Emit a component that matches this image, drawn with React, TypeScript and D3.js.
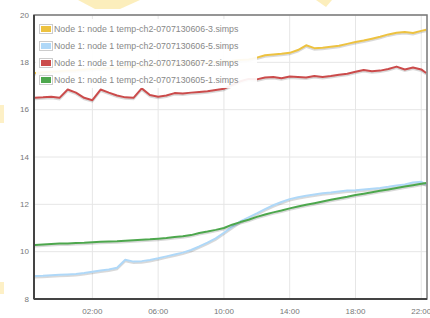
import React from 'react';
import * as d3 from 'd3';

// hours relative to midnight (negative = previous evening)
const hours = [
  -1.5, -1, -0.5, 0, 0.5, 1, 1.5, 2, 2.5, 3, 3.5, 4, 4.5, 5, 5.5, 6,
  6.5, 7, 7.5, 8, 8.5, 9, 9.5, 10, 10.5, 11, 11.5, 12, 12.5, 13, 13.5, 14,
  14.5, 15, 15.5, 16, 16.5, 17, 17.5, 18, 18.5, 19, 19.5, 20, 20.5, 21, 21.5, 22, 22.3,
];

const seriesNames = [
  'Node 1: node 1 temp-ch2-0707130606-3.simps',
  'Node 1: node 1 temp-ch2-0707130606-5.simps',
  'Node 1: node 1 temp-ch2-0707130607-2.simps',
  'Node 1: node 1 temp-ch2-0707130605-1.simps',
];
const seriesColors = ['#edc240', '#afd8f8', '#cb4b4b', '#4da74d'];

const yellowTemps = [
  17.55, 17.58, 17.6, 17.62, 17.65, 17.66, 17.7, 17.72, 17.74, 17.76, 17.78, 17.8, 17.82, 17.84, 17.86, 17.88,
  17.9, 17.92, 17.94, 17.96, 17.98, 18.0, 18.02, 18.05, 18.07, 18.1, 18.12, 18.2, 18.3, 18.33, 18.36, 18.4,
  18.52, 18.72, 18.6, 18.62, 18.66, 18.7, 18.78, 18.86, 18.92, 19.0, 19.08, 19.18, 19.25, 19.28, 19.24, 19.33, 19.38,
];
const blueTemps = [
  8.97, 8.98, 9.0, 9.02, 9.04, 9.06, 9.1, 9.15, 9.2, 9.25, 9.32, 9.66, 9.58, 9.6, 9.65, 9.72,
  9.8, 9.88, 9.96, 10.07, 10.22, 10.38, 10.56, 10.8, 11.05, 11.28, 11.45, 11.62, 11.8, 11.96, 12.1, 12.22,
  12.3, 12.36, 12.42, 12.47, 12.5, 12.54, 12.58, 12.6, 12.63, 12.66, 12.69, 12.74, 12.8, 12.84, 12.92, 12.95, 12.84,
];
const redTemps = [
  16.5, 16.52, 16.55, 16.5, 16.85, 16.72, 16.5, 16.4, 16.85, 16.72, 16.6, 16.52, 16.5, 16.9, 16.62, 16.55,
  16.6, 16.7, 16.68, 16.72, 16.75, 16.78, 16.83, 16.88, 17.05, 17.2, 17.3, 17.28, 17.36, 17.38, 17.33, 17.4,
  17.38, 17.36, 17.42, 17.38, 17.42, 17.48, 17.52, 17.6, 17.68, 17.62, 17.65, 17.72, 17.82, 17.7, 17.78, 17.7, 17.55,
];
const greenTemps = [
  10.28, 10.3, 10.32, 10.34, 10.35, 10.37, 10.38, 10.4, 10.42, 10.43, 10.44, 10.46, 10.48, 10.5, 10.52, 10.55,
  10.58, 10.62, 10.65, 10.7, 10.79, 10.85, 10.92, 11.0, 11.14, 11.25, 11.35, 11.47, 11.57, 11.66, 11.74, 11.83,
  11.91, 11.98, 12.05, 12.12, 12.19, 12.26, 12.32, 12.39, 12.45, 12.51, 12.57, 12.63, 12.69, 12.75, 12.81, 12.87, 12.9,
];

const yTicks = [8, 10, 12, 14, 16, 18, 20];
const xTicks = [2, 6, 10, 14, 18, 22];
const xTickLabels = ['02:00', '06:00', '10:00', '14:00', '18:00', '22:00'];

const W = 430;
const H = 318;
const margin = { top: 15, right: 3, bottom: 19, left: 34 };

export default function App() {
  const x = d3.scaleLinear()
    .domain([-1.55, 22.35])
    .range([margin.left, W - margin.right]);
  const y = d3.scaleLinear()
    .domain([8, 20])
    .range([H - margin.bottom, margin.top]);

  const allSeries = [yellowTemps, blueTemps, redTemps, greenTemps];

  const line = d3.line<number>()
    .x((d, i) => x(hours[i]))
    .y(d => y(d));

  const font = '"Liberation Sans", Arial, sans-serif';
  const rowY = [29, 46, 63, 80];

  return (
    <div style={{ position: 'absolute', left: 0, top: 0 }}>
      <svg width={W} height={H} style={{ display: 'block', background: '#fff' }}>
        {/* faint watermark bits */}
        <path d="M78,0 L140,0 L120,9 L95,9 Z" fill="#fbe7a0" opacity={0.7} />
        <path d="M316,0 L332,0 L326,7 Z" fill="#fbe7a0" opacity={0.7} />
        <rect x={0} y={105} width={4} height={18} fill="#fdf0c6" />
        <rect x={0} y={282} width={4} height={12} fill="#fdf0c6" />

        {/* grid */}
        <g stroke="#e6e6e6" strokeWidth={1}>
          {yTicks.map(t => (
            <line key={'gy' + t} x1={margin.left} x2={W - margin.right} y1={y(t)} y2={y(t)} />
          ))}
          {xTicks.map(t => (
            <line key={'gx' + t} x1={x(t)} x2={x(t)} y1={margin.top} y2={H - margin.bottom} />
          ))}
        </g>

        {/* series, with a flot-like shadow */}
        <defs>
          <clipPath id="plot">
            <rect x={margin.left} y={margin.top} width={W - margin.left - margin.right} height={H - margin.top - margin.bottom} />
          </clipPath>
        </defs>
        <g clipPath="url(#plot)">
          {allSeries.map((s, i) => (
            <g key={'s' + i}>
              <path d={line(s) || ''} fill="none" stroke="rgba(0,0,0,0.15)" strokeWidth={2} transform="translate(0,1.5)" />
              <path d={line(s) || ''} fill="none" stroke={seriesColors[i]} strokeWidth={2} strokeLinejoin="round" />
            </g>
          ))}
        </g>

        {/* legend */}
        <rect x={36} y={19} width={221} height={69} fill="#fff" opacity={0.92} />
        {seriesNames.map((name, i) => (
          <g key={'l' + i}>
            <rect x={39.5} y={rowY[i] - 4.5} width={13} height={9} fill="none" stroke="#ccc" strokeWidth={1} />
            <rect x={41} y={rowY[i] - 3} width={10} height={6} fill={seriesColors[i]} />
            <text x={54} y={rowY[i]} dy="0.33em" fontFamily={font} fontSize={8.8} fill="#888">{name}</text>
          </g>
        ))}

        {/* border */}
        <rect x={margin.left} y={margin.top} width={W - margin.left - margin.right} height={H - margin.top - margin.bottom}
          fill="none" stroke="#777" strokeWidth={1.5} />
        <line x1={margin.left} x2={margin.left} y1={margin.top} y2={H - margin.bottom} stroke="#444" strokeWidth={2} />
        <line x1={margin.left} x2={W - margin.right} y1={H - margin.bottom} y2={H - margin.bottom} stroke="#444" strokeWidth={2} />

        {/* axis labels */}
        {yTicks.map(t => (
          <text key={'ty' + t} x={margin.left - 5} y={y(t)} dy="0.33em" textAnchor="end"
            fontFamily={font} fontSize={8} fill="#777">{t}</text>
        ))}
        {xTicks.map((t, i) => (
          <text key={'tx' + t} x={x(t)} y={H - margin.bottom + 12} dy="0.33em" textAnchor="middle"
            fontFamily={font} fontSize={8} fill="#777">{xTickLabels[i]}</text>
        ))}
      </svg>
    </div>
  );
}
